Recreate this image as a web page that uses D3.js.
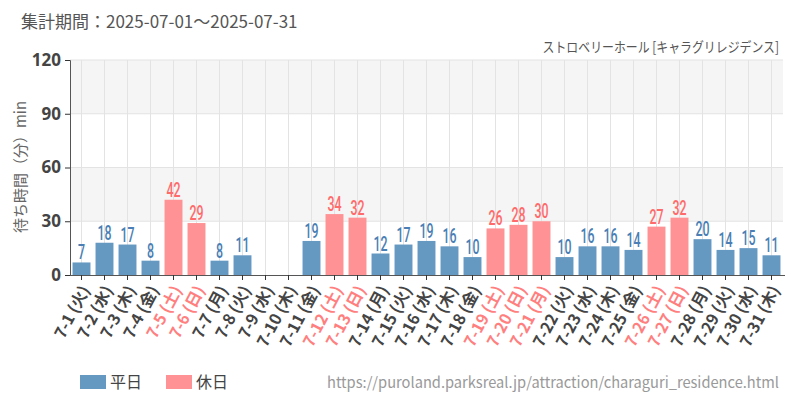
<!DOCTYPE html>
<html><head><meta charset="utf-8">
<script src="https://cdn.jsdelivr.net/npm/d3@7"></script>
<style>
body{margin:0;background:#fff;}
svg{display:block;font-family:"Noto Sans CJK JP","Noto Sans",sans-serif;}
</style></head><body>
<svg id="c" width="800" height="400"></svg>
<script>
const days = ["7-1","7-2","7-3","7-4","7-5","7-6","7-7","7-8","7-9","7-10","7-11","7-12","7-13","7-14","7-15","7-16","7-17","7-18","7-19","7-20","7-21","7-22","7-23","7-24","7-25","7-26","7-27","7-28","7-29","7-30","7-31"];
const weekdays = ["火","水","木","金","土","日","月","火","水","木","金","土","日","月","火","水","木","金","土","日","月","火","水","木","金","土","日","月","火","水","木"];
const holiday = [0,0,0,0,1,1,0,0,0,0,0,1,1,0,0,0,0,0,1,1,1,0,0,0,0,1,1,0,0,0,0];
const waits = [7,18,17,8,42,29,8,11,null,null,19,34,32,12,17,19,16,10,26,28,30,10,16,16,14,27,32,20,14,15,11];
const yTicks = [0,30,60,90,120];
const title = "集計期間：2025-07-01～2025-07-31";
const subtitle = "ストロベリーホール [キャラグリレジデンス]";
const url = "https://puroland.parksreal.jp/attraction/charaguri_residence.html";
const legendLabels = ["平日","休日"];

const colBar = ["#6699c2","#ff9294"];
const colTxt = ["#4a7fb5","#ff6b6b"];
const colLbl = ["#444","#ff7f7f"];

const svg = d3.select("#c");
const L=70, R=783, T=60, B=275;
const x = d3.scaleBand().domain(days).range([L,R]).paddingInner(0.22).paddingOuter(0.11);
const y = d3.scaleLinear().domain([0,120]).range([B,T]);

// background bands
const bands=[[90,120],[30,60]];
svg.selectAll("rect.bg").data(bands).enter().append("rect")
  .attr("x",L).attr("width",R-L).attr("y",d=>y(d[1])).attr("height",d=>y(d[0])-y(d[1]))
  .attr("fill","#f5f5f5");
// grid
svg.selectAll("line.hg").data(yTicks.slice(1)).enter().append("line")
  .attr("x1",L).attr("x2",R).attr("y1",d=>y(d)).attr("y2",d=>y(d)).attr("stroke","#e3e3e3");
svg.selectAll("line.vg").data(days).enter().append("line")
  .attr("x1",d=>x(d)+x.bandwidth()/2).attr("x2",d=>x(d)+x.bandwidth()/2)
  .attr("y1",T).attr("y2",B).attr("stroke","#e3e3e3");

// bars
const data = days.map((d,i)=>({d,v:waits[i],h:holiday[i],w:weekdays[i]}));
const bd = data.filter(e=>e.v!=null);
svg.selectAll("rect.bar").data(bd).enter().append("rect")
  .attr("x",e=>x(e.d)).attr("width",x.bandwidth())
  .attr("y",e=>y(e.v)).attr("height",e=>y(0)-y(e.v))
  .attr("fill",e=>colBar[e.h]);
svg.selectAll("text.val").data(bd).enter().append("text")
  .attr("transform",e=>`translate(${x(e.d)+x.bandwidth()/2},${y(e.v)-3}) scale(0.62,1)`)
  .attr("text-anchor","middle")
  .attr("font-family","Roboto,sans-serif").attr("font-weight",500)
  .attr("font-size",20).attr("fill",e=>colTxt[e.h])
  .text(e=>e.v);

// y axis
const ya = svg.append("g").attr("transform",`translate(${L},0)`)
  .call(d3.axisLeft(y).tickValues(yTicks).tickSize(5).tickPadding(4));
ya.select(".domain").attr("stroke","#555");
ya.selectAll(".tick line").attr("stroke","#333");
ya.selectAll("text").attr("font-size",17).attr("font-weight","bold").attr("fill","#444")
  .attr("font-family","'Noto Sans',sans-serif");

// x axis
const xa = svg.append("g").attr("transform",`translate(0,${B})`)
  .call(d3.axisBottom(x).tickSize(5).tickSizeOuter(0).tickFormat(""));
xa.select(".domain").attr("stroke","#555").attr("d",`M${L},0.5H${R+2}`);
xa.selectAll(".tick line").attr("stroke","#333");
svg.selectAll("text.xl").data(data).enter().append("text")
  .attr("transform",e=>`translate(${x(e.d)+x.bandwidth()/2+4},${B+12}) rotate(-62)`)
  .attr("text-anchor","end").attr("dy","0.35em")
  .attr("font-size",16).attr("font-weight","bold")
  .attr("fill",e=>colLbl[e.h])
  .text(e=>`${e.d} (${e.w})`);

// y title
svg.append("text").attr("transform","translate(26,167) rotate(-90)")
  .attr("text-anchor","middle").attr("font-size",15).attr("fill","#666")
  .text("待ち時間（分）min");

// titles
svg.append("text").attr("x",21).attr("y",28).attr("font-size",17).attr("fill","#555").text(title);
svg.append("text").attr("transform","translate(779,52) scale(0.85,1)").attr("text-anchor","end")
  .attr("font-size",14).attr("fill","#555").text(subtitle);

// legend
const lg = svg.selectAll("g.lg").data(legendLabels).enter().append("g")
  .attr("transform",(d,i)=>`translate(${80+i*86},375)`);
lg.append("rect").attr("width",26).attr("height",14).attr("fill",(d,i)=>colBar[i]);
lg.append("text").attr("x",30).attr("y",13).attr("font-size",16).attr("fill","#444").text(d=>d);

svg.append("text").attr("x",779).attr("y",388).attr("text-anchor","end")
  .attr("font-size",15).attr("fill","#999")
  .attr("textLength",452).attr("lengthAdjust","spacingAndGlyphs").text(url);
</script></body></html>
